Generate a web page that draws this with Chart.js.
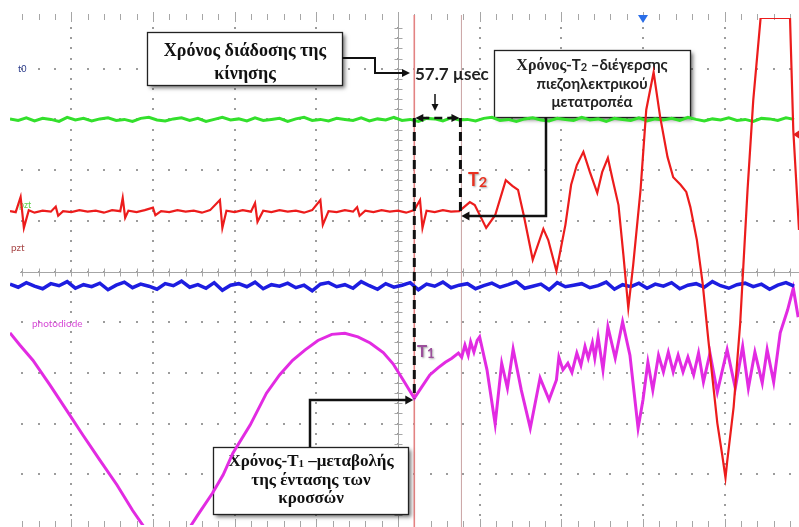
<!DOCTYPE html>
<html>
<head>
<meta charset="utf-8">
<script src="https://cdn.jsdelivr.net/npm/chart.js@4.4.0/dist/chart.umd.min.js"></script>
<style>
html, body { margin: 0; padding: 0; background: #fff; overflow: hidden; }
#scope { display: block; }
</style>
</head>
<body>
<canvas id="scope" width="799" height="527"></canvas>
<script>
'use strict';

// time in µs (100 µs per division), levels in divisions
var tBase = [-475,-465,-455,-445,-435,-425,-415,-405,-395,-385,
  -375,-365,-355,-345,-335,-325,-315,-305,-295,-285,
  -275,-265,-255,-245,-235,-225,-215,-205,-195,-185,
  -175,-165,-155,-145,-135,-125,-115,-105,-95,-85,
  -75,-65,-55,-45,-35,-25,-15,-5,5,15,
  25,35,45,55,65,75,85,95,105,115,
  125,135,145,155,165,175,185,195,205,215,
  225,235,245,255,265,275,285,295,305,315,
  325,335,345,355,365,375,385,395,405,415,
  425,435,445,455,465,475,485];

var greenV = [3.01,2.98,3.03,2.97,3.02,3.00,2.96,3.04,2.99,3.02,
  2.97,3.01,3.03,2.98,3.00,2.96,3.02,3.04,2.99,2.97,
  3.01,3.03,2.98,3.02,2.96,3.00,3.04,2.99,3.01,2.97,
  3.03,2.98,3.00,3.02,2.96,3.01,3.04,2.98,3.00,2.97,
  3.02,3.00,2.98,3.03,2.97,3.01,2.99,3.04,2.98,3.00,
  2.96,3.02,3.01,2.97,3.03,2.99,3.00,2.97,3.02,3.04,
  2.98,3.00,2.96,3.01,3.03,2.99,2.97,3.02,3.00,2.98,
  3.04,2.99,3.01,2.96,3.02,3.00,2.98,3.03,2.97,3.01,
  2.99,3.02,2.98,3.04,3.00,2.97,3.01,2.99,3.03,2.98,
  3.00,2.96,3.02,3.01,2.98,3.03,3.00];

var blueV = [-0.25,-0.31,-0.22,-0.29,-0.34,-0.24,-0.28,-0.20,-0.33,-0.26,
  -0.30,-0.23,-0.36,-0.27,-0.21,-0.32,-0.25,-0.29,-0.35,-0.24,
  -0.28,-0.19,-0.31,-0.26,-0.33,-0.22,-0.37,-0.27,-0.24,-0.30,
  -0.21,-0.34,-0.26,-0.29,-0.23,-0.32,-0.27,-0.38,-0.25,-0.22,
  -0.30,-0.26,-0.33,-0.20,-0.28,-0.35,-0.24,-0.31,-0.27,-0.22,
  -0.36,-0.25,-0.29,-0.21,-0.32,-0.27,-0.24,-0.34,-0.28,-0.23,
  -0.31,-0.26,-0.20,-0.33,-0.29,-0.25,-0.36,-0.22,-0.30,-0.27,
  -0.24,-0.32,-0.28,-0.21,-0.35,-0.26,-0.30,-0.23,-0.33,-0.25,
  -0.29,-0.22,-0.34,-0.27,-0.24,-0.31,-0.20,-0.28,-0.33,-0.26,
  -0.23,-0.30,-0.25,-0.35,-0.27,-0.22,-0.29];

// pzt channel
var redT = [-475,-468,-462,-458,-452,-445,-435,-425,-419,-416,
  -410,-400,-390,-380,-370,-360,-350,-340,-337,-334,
  -330,-320,-310,-300,-297,-290,-280,-270,-260,-250,
  -240,-230,-218,-215,-210,-200,-190,-180,-175,-172,
  -165,-155,-145,-135,-125,-115,-105,-95,-92,-85,
  -75,-65,-55,-50,-47,-40,-30,-20,-10,0,
  10,20,27,30,35,45,55,65,75,
  88,94,108,119,132,140,147,154,165,178,
  184,194,205,212,219,227,235,244,250,257,
  263,270,276,282,288,297,304,313,321,330,
  337,346,353,358,366,373,380,391,397,401,
  403,411,419,428,435,444,480,484,491];
var redV = [1.19,1.17,1.47,0.86,1.21,1.16,1.20,1.18,1.28,1.10,
  1.19,1.17,1.21,1.18,1.20,1.16,1.21,1.19,1.45,1.06,
  1.20,1.17,1.21,1.26,1.11,1.19,1.17,1.21,1.18,1.20,
  1.16,1.21,1.41,0.86,1.20,1.17,1.21,1.18,1.35,0.98,
  1.20,1.17,1.21,1.18,1.20,1.16,1.21,1.41,0.92,1.19,
  1.17,1.21,1.18,1.27,1.10,1.20,1.17,1.21,1.18,1.20,
  1.16,1.21,1.41,0.86,1.20,1.17,1.21,1.18,1.19,
  1.37,1.31,0.86,1.11,1.80,1.69,1.61,1.11,0.23,0.84,
  0.62,0.01,0.92,1.71,2.10,2.36,1.96,1.55,1.96,2.24,
  1.80,1.31,0.33,-0.72,0.13,1.61,3.19,3.93,3.05,2.26,
  1.86,1.71,1.57,1.27,0.62,-0.23,-1.35,-2.99,-3.62,-4.07,
  -3.76,-2.67,-1.02,1.61,3.38,5.0,5.0,2.79,0.82];

// photodiode channel
var magT = [-475,-463,-447,-426,-406,-386,-365,-344,-325,-310,
  -298,-286,-273,-261,-245,-227,-214,-202,-181,-161,
  -145,-129,-114,-98,-81,-65,-49,-34,-18,-6,
  6,20,29,39,49,58,66,74,78,82,
  86,89,93,97,100,109,119,127,134,141,
  151,162,174,185,194,197,202,208,213,219,
  224,229,233,238,241,245,251,257,266,275,
  284,294,300,306,312,319,325,331,337,343,
  349,355,362,368,374,382,391,403,413,422,
  429,437,446,452,460,468,477,484,490];
var magV = [-1.21,-1.45,-1.75,-2.24,-2.73,-3.22,-3.72,-4.21,-4.71,-5.06,
  -5.30,-5.45,-5.39,-5.20,-4.80,-4.37,-4.01,-3.58,-3.03,-2.40,
  -2.04,-1.75,-1.55,-1.36,-1.24,-1.22,-1.29,-1.41,-1.60,-1.82,
  -2.13,-2.50,-2.28,-2.04,-1.90,-1.79,-1.71,-1.61,-1.69,-1.45,
  -1.65,-1.39,-1.59,-1.36,-1.29,-1.94,-3.01,-1.81,-2.30,-1.53,
  -2.34,-3.09,-2.10,-2.53,-2.14,-1.69,-1.94,-1.81,-1.99,-1.61,
  -1.85,-1.48,-1.71,-1.41,-1.71,-1.29,-1.94,-1.09,-1.71,-0.99,
  -1.65,-3.09,-2.53,-1.79,-2.34,-1.65,-1.98,-1.59,-1.98,-1.65,
  -1.98,-1.69,-2.04,-1.61,-2.18,-1.61,-2.38,-1.54,-2.30,-1.48,
  -2.30,-1.59,-2.20,-1.54,-2.18,-1.21,-0.76,-0.33,-0.90];

var xTicks = [-400,-300,-200,-100,0,100,200,300,400];
var yTicks = [-4,-3,-2,-1,0,1,2,3,4];

// cursors (µs) and marker levels
var cursorA = 20, cursorB = 77.7;
var greenLevel = 3.0, redLevel = 1.19, t1Level = -2.5;
var trigT = 300, redMark = 2.7;

function pairs(ts, vs) {
  var out = [];
  for (var i = 0; i < Math.min(ts.length, vs.length); i++) {
    out.push({ x: ts[i], y: vs[i] });
  }
  return out;
}

var SERIF = '"Liberation Serif", "DejaVu Serif", serif';
var SANS = 'Lato, "Open Sans", sans-serif';

function line(ctx, pts) {
  ctx.beginPath();
  ctx.moveTo(pts[0][0], pts[0][1]);
  for (var i = 1; i < pts.length; i++) ctx.lineTo(pts[i][0], pts[i][1]);
  ctx.stroke();
}

function head(ctx, x, y, ang, len, wid) {
  ctx.save();
  ctx.translate(x, y);
  ctx.rotate(ang);
  ctx.beginPath();
  ctx.moveTo(0, 0);
  ctx.lineTo(-len, -wid / 2);
  ctx.lineTo(-len, wid / 2);
  ctx.closePath();
  ctx.fill();
  ctx.restore();
}

function box(ctx, x, y, w, h) {
  ctx.save();
  ctx.shadowColor = 'rgba(0,0,0,0.55)';
  ctx.shadowBlur = 4;
  ctx.shadowOffsetX = 3;
  ctx.shadowOffsetY = 3;
  ctx.fillStyle = '#fff';
  ctx.fillRect(x, y, w, h);
  ctx.restore();
  ctx.strokeStyle = '#222';
  ctx.lineWidth = 1.3;
  ctx.strokeRect(x + 0.5, y + 0.5, w, h);
}

function runs(ctx, parts, cx, y) {
  var w = 0;
  parts.forEach(function(p) { ctx.font = p.f; p.w = ctx.measureText(p.t).width; w += p.w; });
  var x = cx - w / 2;
  parts.forEach(function(p) { ctx.font = p.f; ctx.fillText(p.t, x, y + (p.dy || 0)); x += p.w; });
}

var scopePlugin = {
  id: 'scope',
  beforeDatasetsDraw: function(chart) {
    var ctx = chart.ctx, a = chart.chartArea, xs = chart.scales.x, ys = chart.scales.y;
    var x0 = Math.round(xs.getPixelForValue(0)) + 0.5;
    var y0 = Math.round(ys.getPixelForValue(0)) + 0.5;
    ctx.save();

    // dotted graticule on the scale ticks, dots every fifth of a division
    ctx.fillStyle = '#9c9c9c';
    xs.ticks.forEach(function(tk) {
      var gx = Math.round(xs.getPixelForValue(tk.value));
      for (var v = -4.8; v <= 4.81; v += 0.2) {
        ctx.fillRect(gx - 1, Math.round(ys.getPixelForValue(v)) - 1, 2, 2);
      }
    });
    ys.ticks.forEach(function(tk) {
      var gy = Math.round(ys.getPixelForValue(tk.value));
      for (var t = -460; t <= 480; t += 20) {
        ctx.fillRect(Math.round(xs.getPixelForValue(t)) - 1, gy - 1, 2, 2);
      }
    });

    // edge tick rows and centre axes
    ctx.strokeStyle = '#a6a6a6';
    ctx.lineWidth = 1;
    ctx.beginPath();
    for (var k = -24; k <= 25; k++) {
      var px = Math.round(xs.getPixelForValue(k * 20)) + 0.5;
      if (px < a.left + 8 || px > a.right) continue;
      var big = k % 5 === 0 ? 2 : 0;
      ctx.moveTo(px, a.top - 4 - big); ctx.lineTo(px, a.top + 2 + big);
      ctx.moveTo(px, a.bottom - 4 - big); ctx.lineTo(px, a.bottom + 2);
      ctx.moveTo(px, y0 - 4); ctx.lineTo(px, y0 + 4);
    }
    for (var j = -24; j <= 24; j++) {
      var py = Math.round(ys.getPixelForValue(j * 0.2)) + 0.5;
      ctx.moveTo(x0 - 4, py); ctx.lineTo(x0 + 4, py);
    }
    ctx.moveTo(a.left + 10, y0); ctx.lineTo(a.right, y0);
    ctx.moveTo(x0, a.top - 4); ctx.lineTo(x0, a.bottom + 2);
    ctx.stroke();

    // cursors
    var ca = xs.getPixelForValue(cursorA), cb = xs.getPixelForValue(cursorB);
    ctx.strokeStyle = '#e38383'; ctx.lineWidth = 1.6;
    line(ctx, [[ca, a.top - 3], [ca, 527]]);
    ctx.strokeStyle = '#c9a2a2'; ctx.lineWidth = 1;
    line(ctx, [[cb, a.top - 3], [cb, 527]]);

    // trigger and channel markers
    var tx = xs.getPixelForValue(trigT);
    ctx.fillStyle = '#2a6ee8';
    ctx.beginPath(); ctx.moveTo(tx - 5, a.top - 3); ctx.lineTo(tx + 5, a.top - 3); ctx.lineTo(tx, a.top + 5); ctx.closePath(); ctx.fill();
    var ry = ys.getPixelForValue(redMark);
    ctx.fillStyle = '#e02020';
    ctx.beginPath(); ctx.moveTo(a.right - 6, ry); ctx.lineTo(a.right, ry - 4); ctx.lineTo(a.right, ry + 4); ctx.closePath(); ctx.fill();

    // channel labels
    ctx.textBaseline = 'alphabetic';
    ctx.font = '9px ' + SANS;
    ctx.fillStyle = '#2a3a8a'; ctx.fillText('t0', 18, ys.getPixelForValue(greenLevel) - 47);
    ctx.fillStyle = '#5ccf4a'; ctx.fillText('pzt', 19, ys.getPixelForValue(redLevel) - 3);
    ctx.font = '10px ' + SANS;
    ctx.fillStyle = '#a84848'; ctx.fillText('pzt', 11, 251);
    ctx.fillStyle = '#d64ad6'; ctx.fillText('photodiode', 32, 327);

    // annotation boxes
    ctx.fillStyle = '#111';
    box(ctx, 147, 32, 195, 53);
    ctx.font = 'bold 18px ' + SERIF;
    ctx.textAlign = 'center';
    ctx.fillText('Χρόνος διάδοσης της', 245, 56);
    ctx.fillText('κίνησης', 245, 79);
    ctx.textAlign = 'left';

    box(ctx, 494, 50, 196, 67);
    ctx.fillStyle = '#222';
    runs(ctx, [
      { t: 'Χρόνος-', f: 'bold 16px ' + SERIF },
      { t: 'T', f: 'bold 15px ' + SANS },
      { t: '2', f: 'bold 11px ' + SANS, dy: 1 },
      { t: ' \u2013διέγερσης', f: 'bold 15px ' + SANS }
    ], 592, 70);
    ctx.font = 'bold 15px ' + SANS;
    ctx.textAlign = 'center';
    ctx.fillText('πιεζοηλεκτρικού', 592, 89);
    ctx.fillText('μετατροπέα', 592, 107);
    ctx.textAlign = 'left';

    box(ctx, 213, 447, 195, 67);
    ctx.fillStyle = '#111';
    runs(ctx, [
      { t: 'Χρόνος-T', f: 'bold 17px ' + SERIF },
      { t: '1', f: 'bold 11px ' + SERIF, dy: 1 },
      { t: ' \u2013μεταβολής', f: 'bold 17px ' + SERIF }
    ], 311, 466);
    ctx.font = 'bold 17px ' + SERIF;
    ctx.textAlign = 'center';
    ctx.fillText('της έντασης των', 311, 485);
    ctx.fillText('κροσσών', 311, 503);
    ctx.textAlign = 'left';

    ctx.restore();
  },
  afterDatasetsDraw: function(chart) {
    var ctx = chart.ctx, xs = chart.scales.x, ys = chart.scales.y;
    var ca = xs.getPixelForValue(cursorA), cb = xs.getPixelForValue(cursorB) - 1;
    var gy = ys.getPixelForValue(greenLevel) - 1.5;
    ctx.save();
    ctx.strokeStyle = '#111';
    ctx.fillStyle = '#111';

    // dashed time markers
    ctx.lineWidth = 3;
    ctx.setLineDash([9, 5]);
    line(ctx, [[ca, gy], [ca, ys.getPixelForValue(t1Level)]]);
    line(ctx, [[cb, gy], [cb, ys.getPixelForValue(redLevel)]]);
    ctx.lineWidth = 2.5;
    ctx.setLineDash([8, 5]);
    line(ctx, [[ca + 7, gy], [cb - 7, gy]]);
    ctx.setLineDash([]);
    head(ctx, ca + 1, gy, Math.PI, 8, 8);
    head(ctx, cb - 1, gy, 0, 8, 8);

    // connectors
    ctx.lineWidth = 2;
    line(ctx, [[342, 58], [375, 58], [375, 73], [403, 73]]);
    head(ctx, 410, 73, 0, 8, 8);
    ctx.lineWidth = 1.5;
    line(ctx, [[435, 94], [435, 104]]);
    head(ctx, 435, 111, Math.PI / 2, 7, 7);
    ctx.lineWidth = 2.5;
    line(ctx, [[546, 117], [546, 216], [468, 216]]);
    head(ctx, cb + 1, 216, Math.PI, 8, 9);
    line(ctx, [[310, 447], [310, 400], [406, 400]]);
    head(ctx, ca - 1, 400, 0, 8, 9);

    // T1 / T2 tags and cursor delta
    ctx.save();
    ctx.shadowColor = 'rgba(0,0,0,0.35)';
    ctx.shadowBlur = 2;
    ctx.shadowOffsetX = 1;
    ctx.shadowOffsetY = 1;
    ctx.fillStyle = '#e8301f';
    ctx.font = 'bold 18px ' + SANS;
    ctx.fillText('T', 468, 186);
    ctx.font = 'bold 14px ' + SANS;
    ctx.fillText('2', 479, 187);
    ctx.fillStyle = '#9b4f9b';
    ctx.font = 'bold 17px ' + SANS;
    ctx.fillText('T', 417, 357);
    ctx.font = 'bold 13px ' + SANS;
    ctx.fillText('1', 427, 358);
    ctx.restore();

    ctx.fillStyle = '#222';
    ctx.font = 'bold 17px ' + SANS;
    ctx.fillText('57.7 \u00b5sec', 415, 80);
    ctx.restore();
  }
};

var chart = new Chart(document.getElementById('scope'), {
  type: 'line',
  data: {
    datasets: [
      { label: 'pzt', data: pairs(redT, redV), borderColor: '#ec1c1c', borderWidth: 2.2 },
      { label: 't0', data: pairs(tBase, greenV), borderColor: '#33e02c', borderWidth: 3 },
      { label: 'ch3', data: pairs(tBase, blueV), borderColor: '#1d1de0', borderWidth: 3.5 },
      { label: 'photodiode', data: pairs(magT, magV), borderColor: '#e22be2', borderWidth: 3 }
    ]
  },
  options: {
    responsive: false,
    animation: false,
    devicePixelRatio: 1,
    layout: { padding: { left: 10, right: 0, top: 18, bottom: 2 } },
    elements: { point: { radius: 0 }, line: { tension: 0 } },
    plugins: { legend: { display: false }, tooltip: { enabled: false } },
    scales: {
      x: {
        type: 'linear', min: -475, max: 491,
        afterBuildTicks: function(s) { s.ticks = xTicks.map(function(v) { return { value: v }; }); },
        ticks: { display: false },
        grid: { display: false, drawTicks: false },
        border: { display: false }
      },
      y: {
        type: 'linear', min: -5, max: 5,
        afterBuildTicks: function(s) { s.ticks = yTicks.map(function(v) { return { value: v }; }); },
        ticks: { display: false },
        grid: { display: false, drawTicks: false },
        border: { display: false }
      }
    }
  },
  plugins: [scopePlugin]
});
</script>
</body>
</html>
